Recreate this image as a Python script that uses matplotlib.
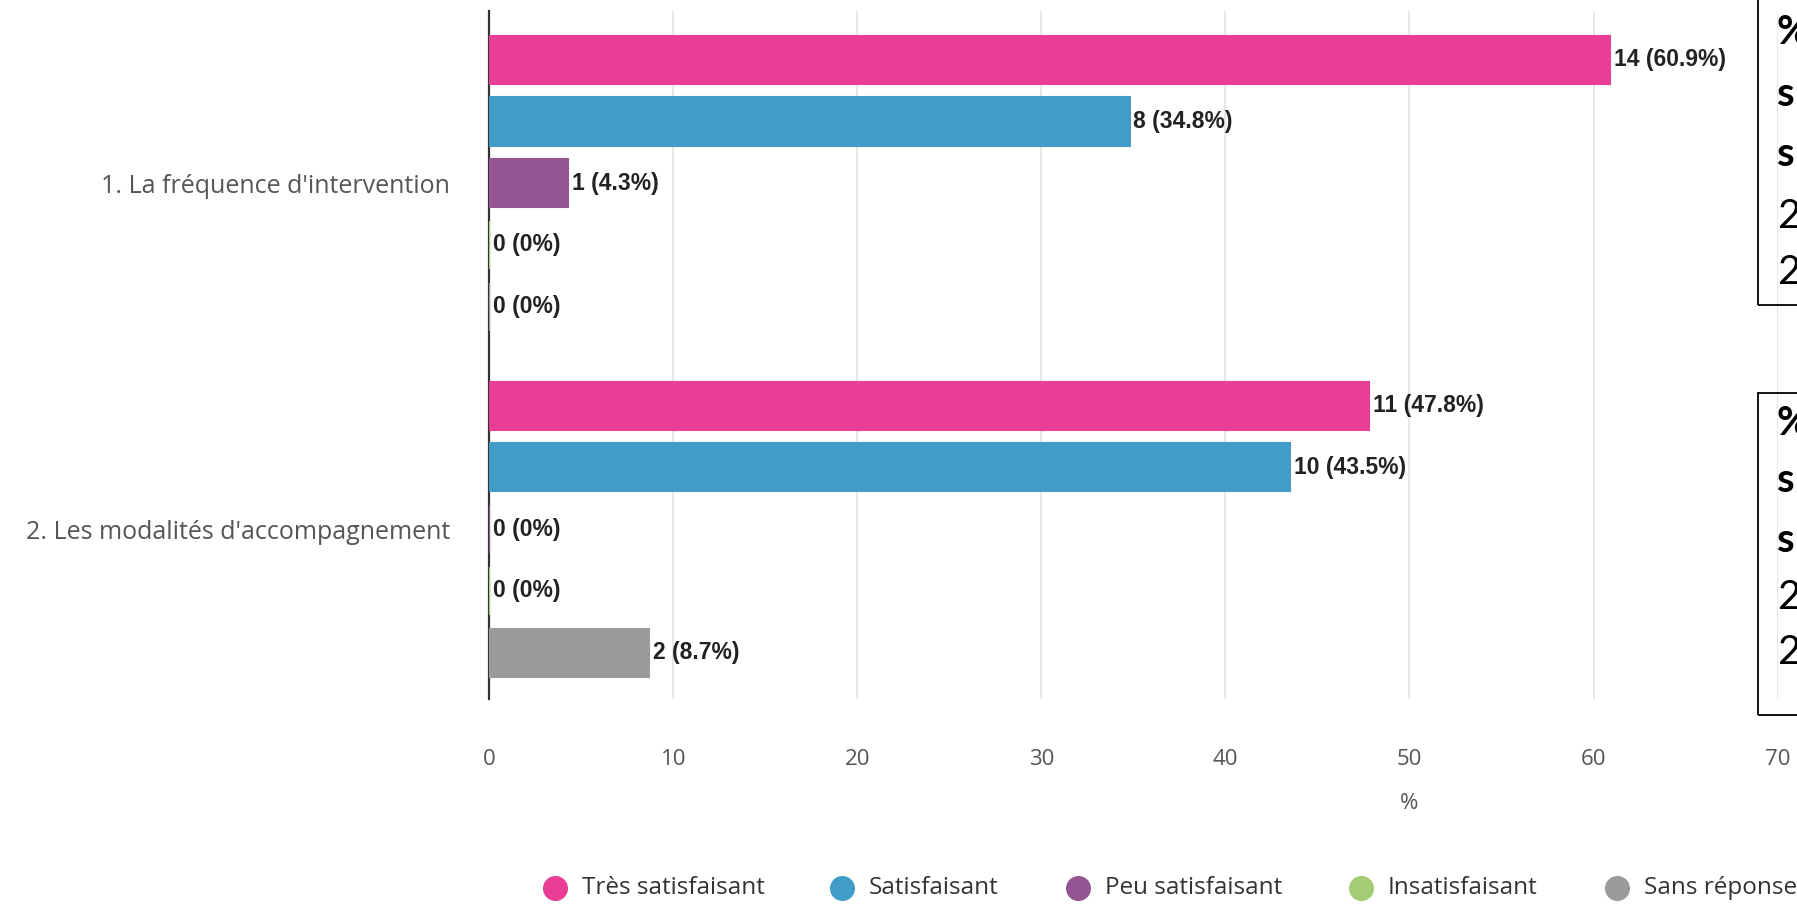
import numpy as np
import matplotlib
matplotlib.use('Agg')
import matplotlib.pyplot as plt
from matplotlib.lines import Line2D
from matplotlib.patches import Rectangle

categories = ["1. La fréquence d'intervention", "2. Les modalités d'accompagnement"]
series = ['Très satisfaisant', 'Satisfaisant', 'Peu satisfaisant', 'Insatisfaisant', 'Sans réponse']
colors = ['#E83E96', '#429CC8', '#955593', '#A2CD72', '#9A9A9A']
counts = [[14, 8, 1, 0, 0], [11, 10, 0, 0, 2]]
percents = [[60.9, 34.8, 4.3, 0, 0], [47.8, 43.5, 0, 0, 8.7]]
x_ticks = [0, 10, 20, 30, 40, 50, 60, 70]
box_lines = ['%', 's', 's', '2', '2']

group_gap = 5.6
bar_h = 0.78

fig = plt.figure(figsize=(17.97, 9.05), dpi=100)
ax = fig.add_axes([0.2722, 0.2276, 0.9892 - 0.2722, 0.9873 - 0.2276])

for g, cat in enumerate(categories):
    for s, name in enumerate(series):
        y = g * group_gap + s
        v = percents[g][s]
        ax.barh(y, v, height=bar_h, color=colors[s], edgecolor=colors[s], linewidth=1.5, zorder=3)
        ax.text(v + 0.2, y, f'{counts[g][s]} ({v:g}%)', va='center', ha='left',
                fontsize=16.5, fontweight='bold', family='Liberation Sans', color='#222222', zorder=4)

ax.set_xlim(0, 70)
ax.set_ylim(10.35, -0.78)
ax.set_xticks(x_ticks)
ax.set_xticklabels([str(t) for t in x_ticks], family='Open Sans', fontsize=16, color='#555555')
ax.set_yticks([g * group_gap + 2 for g in range(len(categories))])
ax.set_yticklabels(categories, family='Open Sans', fontsize=18, color='#555555')
ax.tick_params(axis='x', length=0, pad=36)
ax.tick_params(axis='y', length=0, pad=28)
ax.grid(axis='x', color='#e6e6e6', linewidth=1.3, zorder=0)
ax.set_axisbelow(True)
for side in ['top', 'right', 'bottom']:
    ax.spines[side].set_visible(False)
ax.spines['left'].set_color('#333333')
ax.spines['left'].set_linewidth(1.6)
ax.set_xlabel('%', family='Open Sans', fontsize=16, color='#555555')
ax.xaxis.set_label_coords(50 / 70, -0.137)

# legend along the bottom, cut on the right like the screenshot
leg_x = [0.309, 0.4685, 0.600, 0.7575, 0.900]
for lx, name, c in zip(leg_x, series, colors):
    fig.add_artist(Line2D([lx], [0.019], marker='o', markersize=17, color=c, linestyle='none',
                          transform=fig.transFigure))
    fig.text(lx + 0.0148, 0.019, name, va='center', ha='left', family='Open Sans',
             fontsize=17.5, color='#333333')

# boxes on the right edge
for top, bottom, ys in [(-10, 305, [33, 95, 155, 216, 273]), (393, 715, [423, 480, 540, 597, 652])]:
    fig.add_artist(Rectangle((1758 / 1797, 1 - bottom / 905), 0.1, (bottom - top) / 905,
                             transform=fig.transFigure, fill=False, edgecolor='black', linewidth=1.3))
    for i, (yy, t) in enumerate(zip(ys, box_lines)):
        fig.text(1777 / 1797, 1 - yy / 905, t, va='center', ha='left', family='Lato',
                 fontsize=29, fontweight='bold' if i < 3 else 'normal', color='black')

fig.savefig('out.png', dpi=100)
